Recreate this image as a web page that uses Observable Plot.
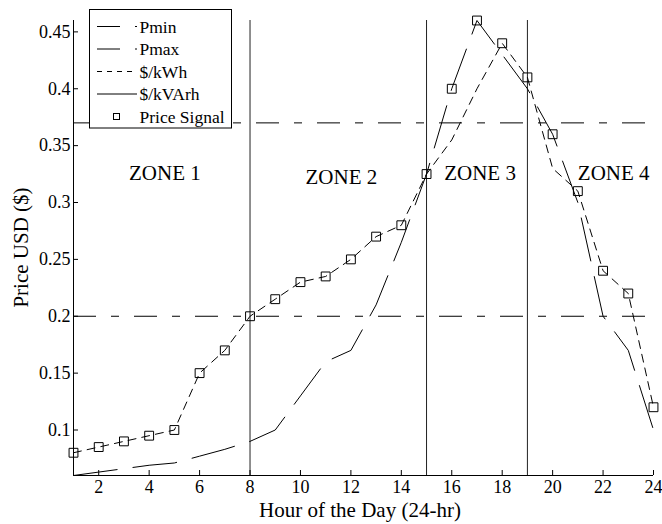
<!DOCTYPE html>
<html><head><meta charset="utf-8">
<script src="https://cdn.jsdelivr.net/npm/d3@7"></script>
<script src="https://cdn.jsdelivr.net/npm/@observablehq/plot@0.6"></script>
<style>body{margin:0;background:#fff} svg{font-family:"Liberation Serif","Times New Roman",serif;}</style>
</head><body><div id="chart"></div>
<script>
const hours = [1,2,3,4,5,6,7,8,9,10,11,12,13,14,15,16,17,18,19,20,21,22,23,24];
const kWh = [0.08,0.085,0.09,0.095,0.10,0.15,0.17,0.20,0.215,0.23,0.235,0.25,0.27,0.28,0.325,0.355,0.40,0.44,0.41,0.33,0.31,0.24,0.22,0.12];
const kVArh = [0.06,0.063,0.066,0.069,0.071,0.077,0.083,0.09,0.10,0.13,0.16,0.17,0.21,0.265,0.325,0.40,0.46,0.43,0.40,0.36,0.30,0.20,0.17,0.10];
const priceSignal = [0.08,0.085,0.09,0.095,0.10,0.15,0.17,0.20,0.215,0.23,0.235,0.25,0.27,0.28,0.325,0.40,0.46,0.44,0.41,0.36,0.31,0.24,0.22,0.12];
const limitNames = ["Pmin","Pmax"];
const limitValues = [0.2,0.37];
const zoneBounds = [8,15,19];
const zoneNames = ["ZONE 1","ZONE 2","ZONE 3","ZONE 4"];
const zoneX = [3.2,10.2,15.7,21.0];
const zoneY = [0.326,0.322,0.326,0.326];
const xTicks = [2,4,6,8,10,12,14,16,18,20,22,24];
const yTicks = [0.1,0.15,0.2,0.25,0.3,0.35,0.4,0.45];
const yTickLabels = ["0.1","0.15","0.2","0.25","0.3","0.35","0.4","0.45"];
const legendLabels = ["Pmin","Pmax","$/kWh","$/kVArh","Price Signal"];
const xLabel = "Hour of the Day (24-hr)";
const yLabel = "Price USD ($)";

const W=662,H=524,mL=73,mR=9,mT=20,mB=49;
const plotW=W-mL-mR, plotH=H-mT-mB;
const rows = hours.map((h,i)=>({hour:h,kWh:kWh[i],kVArh:kVArh[i],signal:priceSignal[i]}));
const limits = limitNames.map((n,i)=>({name:n,value:limitValues[i]}));
const zones = zoneNames.map((n,i)=>({label:n,x:zoneX[i],y:zoneY[i]}));
const dashDot = "23,15,8,15";
const FONT = "Liberation Serif, Times New Roman, serif";

const chart = Plot.plot({
  width:W, height:H, marginLeft:mL, marginRight:mR, marginTop:mT, marginBottom:mB,
  style:{fontFamily:FONT, fontSize:"18px", background:"white", color:"black", overflow:"visible"},
  x:{domain:[1,24], label:null},
  y:{domain:[0.06,0.46], label:null},
  marks:[
    Plot.ruleY(limits,{y:"value",stroke:"black",strokeWidth:1,strokeDasharray:dashDot}),
    Plot.ruleX(zoneBounds,{stroke:"#222",strokeWidth:1}),
    Plot.line(rows,{x:"hour",y:"kWh",stroke:"black",strokeWidth:1,strokeDasharray:"8,6"}),
    Plot.line(rows,{x:"hour",y:"kVArh",stroke:"black",strokeWidth:1,strokeDasharray:"44,16"}),
    Plot.dot(rows,{x:"hour",y:"signal",symbol:"square",r:5,stroke:"black",strokeWidth:1,fill:"none"}),
    Plot.text(zones,{x:"x",y:"y",text:"label",textAnchor:"start",fontSize:21,fill:"black"}),
    Plot.ruleX([1],{stroke:"black"}),
    Plot.ruleY([0.06],{stroke:"black"}),
    Plot.tickX(xTicks,{x:d=>d,insetTop:plotH-5,stroke:"black"}),
    Plot.tickY(yTicks,{y:d=>d,insetRight:plotW-5,stroke:"black"}),
    Plot.axisX(xTicks,{tickSize:0,tickPadding:5,fontSize:18,fill:"black"}),
    Plot.axisY(yTicks,{tickSize:0,tickPadding:3,fontSize:18,fill:"black",tickFormat:(d)=>yTickLabels[yTicks.indexOf(d)]})
  ]
});
document.getElementById("chart").appendChild(chart);

const svg = d3.select(chart);
svg.append("text").attr("x",mL+plotW/2-3).attr("y",517).attr("text-anchor","middle")
  .attr("font-family",FONT).attr("font-size",21).attr("fill","black").text(xLabel);
svg.append("text").attr("transform",`translate(28,${mT+plotH/2}) rotate(-90)`).attr("text-anchor","middle")
  .attr("font-family",FONT).attr("font-size",21).attr("fill","black").text(yLabel);

const lg = svg.append("g").attr("font-family",FONT).attr("text-anchor","start");
lg.append("rect").attr("x",89.5).attr("y",9.5).attr("width",142).attr("height",118.5)
  .attr("fill","white").attr("stroke","black");
const dashes = [dashDot,dashDot,"5,5",null,null];
legendLabels.forEach((lab,i)=>{
  const cy = 26.5+i*22.5;
  if(i<4){
    const l = lg.append("line").attr("x1",97).attr("x2",137).attr("y1",cy).attr("y2",cy).attr("stroke","black");
    if(dashes[i]) l.attr("stroke-dasharray",dashes[i]);
  } else {
    lg.append("rect").attr("x",113.5).attr("y",cy-3).attr("width",6).attr("height",6).attr("fill","none").attr("stroke","black");
  }
  lg.append("text").attr("x",139.5).attr("y",cy+6).attr("text-anchor","start").attr("font-size",17.5).attr("fill","black").text(lab);
});
</script></body></html>
